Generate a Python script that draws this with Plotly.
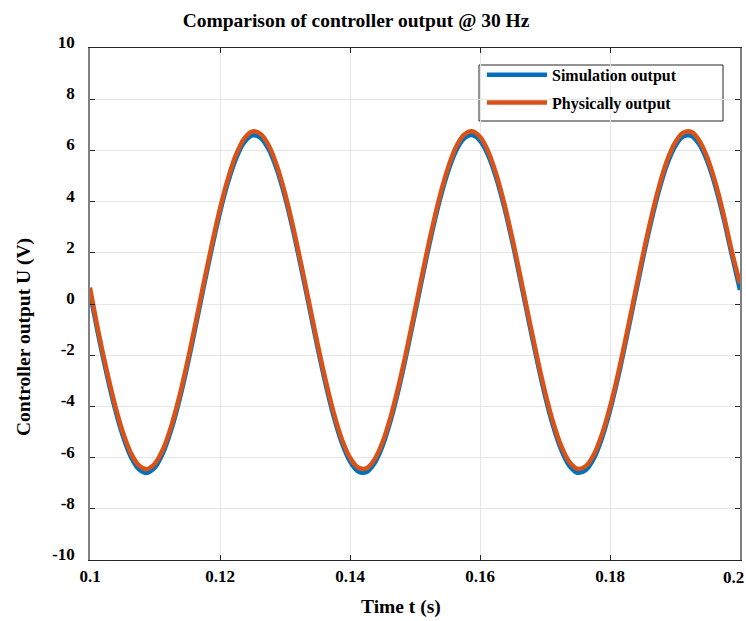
import plotly.graph_objects as go

# time samples (s), every 1.25 ms from 0.1 to 0.2
t = [round(0.1 + 0.00125 * i, 5) for i in range(81)]

simulation_output = [
    0.44, -1.18, -2.66, -4.00, -5.11, -5.95, -6.45, -6.60, -6.38, -5.81,
    -4.92, -3.76, -2.39, -0.88, 0.67, 2.18, 3.58, 4.77, 5.70, 6.32,
    6.59, 6.49, 6.04, 5.25, 4.17, 2.86, 1.39, -0.15, -1.69, -3.13,
    -4.40, -5.43, -6.15, -6.54, -6.57, -6.23, -5.55, -4.56, -3.32, -1.90,
    -0.37, 1.18, 2.66, 4.00, 5.11, 5.95, 6.45, 6.60, 6.38, 5.81,
    4.92, 3.76, 2.39, 0.88, -0.67, -2.18, -3.58, -4.77, -5.70, -6.32,
    -6.59, -6.49, -6.04, -5.25, -4.17, -2.86, -1.39, 0.15, 1.69, 3.13,
    4.40, 5.43, 6.15, 6.54, 6.57, 6.23, 5.55, 4.56, 3.32, 1.90,
    0.55,
]

physical_output = [
    0.64, -1.03, -2.51, -3.85, -4.96, -5.80, -6.30, -6.45, -6.23, -5.66,
    -4.77, -3.61, -2.24, -0.73, 0.82, 2.33, 3.73, 4.92, 5.85, 6.47,
    6.74, 6.64, 6.19, 5.40, 4.32, 3.01, 1.54, 0.00, -1.54, -2.98,
    -4.25, -5.28, -6.00, -6.39, -6.42, -6.08, -5.40, -4.41, -3.17, -1.75,
    -0.22, 1.33, 2.81, 4.15, 5.26, 6.10, 6.60, 6.75, 6.53, 5.96,
    5.07, 3.91, 2.54, 1.03, -0.52, -2.03, -3.43, -4.62, -5.55, -6.17,
    -6.44, -6.34, -5.89, -5.10, -4.02, -2.71, -1.24, 0.30, 1.84, 3.28,
    4.55, 5.58, 6.30, 6.69, 6.72, 6.38, 5.70, 4.71, 3.47, 2.05,
    0.80,
]

x_ticks = [0.1, 0.12, 0.14, 0.16, 0.18, 0.2]
x_tick_labels = ["0.1", "0.12", "0.14", "0.16", "0.18", "0.2"]
y_ticks = [-10, -8, -6, -4, -2, 0, 2, 4, 6, 8, 10]
y_tick_labels = ["-10", "-8", "-6", "-4", "-2", "0", "2", "4", "6", "8", "10"]

FONT = "Liberation Serif"
TICKFONT = dict(family=FONT, size=17, color="black", weight="bold")

fig = go.Figure()
fig.add_trace(go.Scatter(x=t, y=simulation_output, mode="lines", name="Simulation output",
                         legendgroup="a",
                         line=dict(color="#0072BD", width=4.5, shape="spline", smoothing=1.0)))
fig.add_trace(go.Scatter(x=t, y=physical_output, mode="lines", name="Physically output",
                         legendgroup="b",
                         line=dict(color="#D95319", width=4.5, shape="spline", smoothing=1.0)))

# the last x tick label sits at the page edge; draw it right-aligned so it stays visible
axis_labels = x_tick_labels[:-1] + [""]

fig.update_layout(
    width=746, height=621,
    margin=dict(l=90, r=6, t=48, b=61),
    paper_bgcolor="white", plot_bgcolor="white",
    font=dict(family=FONT, color="#262626"),
    title=dict(text="<b>Comparison of controller output @ 30 Hz</b>",
               font=dict(family=FONT, size=19.5, color="black"),
               x=356 / 746, xanchor="center", xref="container",
               y=1 - 20 / 621, yanchor="middle", yref="container"),
    legend=dict(x=(482 - 90) / 650, xanchor="left", y=0.981, yanchor="top",
                bgcolor="rgba(0,0,0,0)", borderwidth=0,
                font=dict(family=FONT, size=16, color="black", weight="bold"),
                itemwidth=60, traceorder="grouped", tracegroupgap=4),
    showlegend=True,
    shapes=[dict(type="rect", xref="paper", yref="paper",
                 x0=(479 - 90) / 650, x1=(723 - 90) / 650,
                 y0=(560 - 121) / 512, y1=(560 - 65) / 512,
                 line=dict(color="#262626", width=1), fillcolor="white", layer="below")],
    annotations=[
        dict(text="<b>Time t (s)</b>", xref="paper", yref="paper",
             x=(401 - 90) / 650, y=(560 - 607) / 512, xanchor="center", yanchor="middle",
             showarrow=False, font=dict(family=FONT, size=19.5, color="black")),
        dict(text="<b>Controller output U (V)</b>", xref="paper", yref="paper",
             x=(24 - 90) / 650, y=(560 - 337) / 512, xanchor="center", yanchor="middle",
             textangle=-90, showarrow=False, font=dict(family=FONT, size=19.5, color="black")),
        dict(text=x_tick_labels[-1], xref="paper", yref="paper",
             x=(745 - 90) / 650, y=(560 - 577) / 512, xanchor="right", yanchor="middle",
             showarrow=False, font=TICKFONT, borderpad=0),
    ],
)

fig.update_xaxes(
    range=[0.1, 0.2], tickmode="array", tickvals=x_ticks, ticktext=axis_labels,
    showgrid=True, gridcolor="#e6e6e6", gridwidth=1, zeroline=False,
    showline=True, linecolor="#262626", linewidth=1.2, mirror="ticks",
    ticks="inside", ticklen=5, tickcolor="#262626",
    tickfont=TICKFONT,
    automargin=False,
)
fig.update_yaxes(
    range=[-10, 10], tickmode="array", tickvals=y_ticks, ticktext=y_tick_labels,
    showgrid=True, gridcolor="#e6e6e6", gridwidth=1, zeroline=False,
    showline=True, linecolor="#808080", linewidth=1.5, mirror="ticks",
    ticks="inside", ticklen=5, tickcolor="#262626",
    tickfont=TICKFONT,
    ticklabelshift=-6, ticklabelstandoff=10,
    ticklabeloverflow="allow",
    automargin=False,
)

fig.write_html("out.html", config={"displayModeBar": False},
               post_script="document.body.style.margin='0';")
